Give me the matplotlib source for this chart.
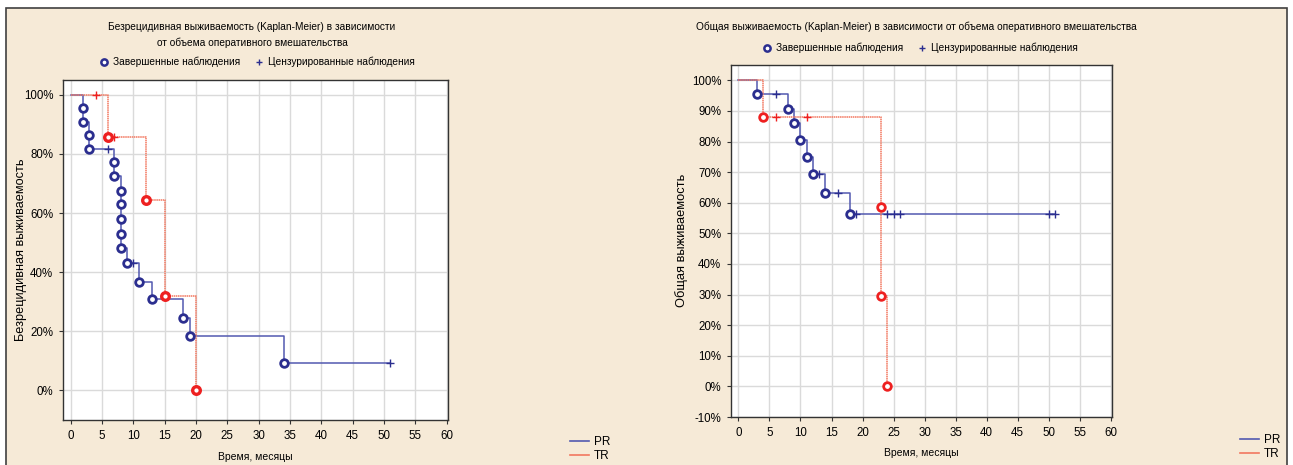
import matplotlib
matplotlib.use("Agg")
import matplotlib.pyplot as plt
from matplotlib.lines import Line2D
from matplotlib.patches import Rectangle
from matplotlib.ticker import FuncFormatter

plt.rcParams['font.family'] = ['Liberation Sans', 'DejaVu Sans']

# ---------------- data ----------------
# Left: relapse-free survival, %
rfs_pr_event_t = [2, 2, 3, 3, 7, 7, 8, 8, 8, 8, 8, 9, 11, 13, 18, 19, 34]
rfs_pr_event_s = [95.5, 90.9, 86.4, 81.8, 77.3, 72.5, 67.5, 63.0, 58.0, 53.0, 48.1,
                  43.2, 36.8, 30.8, 24.5, 18.4, 9.2]
rfs_pr_cens_t = [6, 10, 51]
rfs_tr_event_t = [6, 12, 15, 20]
rfs_tr_event_s = [85.7, 64.3, 32.1, 0.0]
rfs_tr_cens_t = [4, 7]

# Right: overall survival, %
os_pr_event_t = [3, 8, 9, 10, 11, 12, 14, 18]
os_pr_event_s = [95.6, 90.7, 85.9, 80.5, 74.9, 69.5, 63.3, 56.2]
os_pr_cens_t = [6, 13, 16, 19, 24, 25, 26, 50, 51]
os_tr_event_t = [4, 23, 23, 24]
os_tr_event_s = [87.9, 58.5, 29.4, 0.0]
os_tr_cens_t = [6, 11]

groups = ['PR', 'TR']
x_ticks = list(range(0, 61, 5))
rfs_y_ticks = [0, 20, 40, 60, 80, 100]
os_y_ticks = list(range(-10, 101, 10))

title_left = 'Безрецидивная выживаемость (Kaplan-Meier) в зависимости\nот объема оперативного вмешательства'
title_right = 'Общая выживаемость (Kaplan-Meier) в зависимости от объема оперативного вмешательства'
ylabel_left = 'Безрецидивная выживаемость'
ylabel_right = 'Общая выживаемость'
xlabel = 'Время, месяцы'
leg_labels = ['Завершенные наблюдения', 'Цензурированные наблюдения']

# ---------------- styles ----------------
BG = '#f6ead7'
PR_LINE = '#5259b0'
PR_MARK = '#2b2e8f'
TR_LINE = '#f2775f'
TR_MARK = '#ee2020'

W, H = 1293, 465
fig = plt.figure(figsize=(W / 100, H / 100), dpi=100)
fig.patch.set_facecolor('white')
bg = Rectangle((6 / W, -0.05), (1287 - 6) / W, 1.05 - 8 / H,
               transform=fig.transFigure, facecolor=BG,
               edgecolor='#404040', lw=1.2, zorder=-10)
fig.patches.append(bg)


def value_at(t, ev_t, ev_s):
    s = 100.0
    for et, es in zip(ev_t, ev_s):
        if et <= t:
            s = es
    return s


def km(ax, ev_t, ev_s, cens_t, line_c, mark_c, ls, mew):
    end = max(ev_t + cens_t)
    xs, ys = [0], [100.0]
    for et, es in zip(ev_t, ev_s):
        if xs[-1] == et:
            ys[-1] = es
        else:
            xs.append(et)
            ys.append(es)
    if xs[-1] < end:
        xs.append(end)
        ys.append(ys[-1])
    ax.step(xs, ys, where='post', color=line_c, lw=1.1, ls=ls, zorder=3)
    ax.plot(ev_t, ev_s, 'o', ms=5.5, mfc='white', mec=mark_c, mew=mew, zorder=5,
            ls='none')
    cs = [value_at(t, ev_t, ev_s) for t in cens_t]
    ax.plot(cens_t, cs, '+', ms=6, color=mark_c, mew=1.0, zorder=4, ls='none')


def setup(ax, yticks, ylim):
    ax.set_facecolor('white')
    ax.set_xlim(-1.2, 60.2)
    ax.set_ylim(*ylim)
    ax.set_xticks(x_ticks)
    ax.set_yticks(yticks)
    ax.yaxis.set_major_formatter(FuncFormatter(lambda v, p: f'{int(round(v))}%'))
    ax.grid(True, color='#dadada', lw=1.0)
    ax.set_axisbelow(True)
    for sp in ax.spines.values():
        sp.set_color('#333333')
        sp.set_linewidth(1.0)
    ax.tick_params(labelsize=8.3, length=3, color='#333333', pad=4)


ax1 = fig.add_axes([63 / W, (H - 420) / H, (448 - 63) / W, (420 - 80) / H])
setup(ax1, rfs_y_ticks, (-10, 105))
km(ax1, rfs_pr_event_t, rfs_pr_event_s, rfs_pr_cens_t, PR_LINE, PR_MARK, '-', 2.0)
km(ax1, rfs_tr_event_t, rfs_tr_event_s, rfs_tr_cens_t, TR_LINE, TR_MARK, (0, (1, 0.4)), 2.4)

ax2 = fig.add_axes([731 / W, (H - 417) / H, (1112 - 731) / W, (417 - 65) / H])
setup(ax2, os_y_ticks, (-10, 105))
km(ax2, os_pr_event_t, os_pr_event_s, os_pr_cens_t, PR_LINE, PR_MARK, '-', 2.0)
km(ax2, os_tr_event_t, os_tr_event_s, os_tr_cens_t, TR_LINE, TR_MARK, (0, (1, 0.4)), 2.0)

# titles and axis labels
fig.text(252 / W, 1 - 35 / H, title_left, ha='center', va='center', fontsize=7.3,
         linespacing=1.6)
fig.text(916 / W, 1 - 27 / H, title_right, ha='center', va='center', fontsize=7.3)
fig.text(21 / W, 1 - 250 / H, ylabel_left, rotation=90, ha='center', va='center',
         fontsize=9.2)
fig.text(682 / W, 1 - 240 / H, ylabel_right, rotation=90, ha='center', va='center',
         fontsize=9.3)
fig.text(255 / W, 1 - 457 / H, xlabel, ha='center', va='center', fontsize=7.5)
fig.text(921 / W, 1 - 453 / H, xlabel, ha='center', va='center', fontsize=7.5)

# top legends
top_handles = [Line2D([], [], marker='o', ls='none', ms=4.5, mfc='white', mec=PR_MARK, mew=1.8),
               Line2D([], [], marker='+', ls='none', ms=5, color=PR_MARK, mew=1)]
for cx, cy in [(257, 62), (920, 48)]:
    fig.legend(top_handles, leg_labels, loc='center', bbox_to_anchor=(cx / W, 1 - cy / H),
               ncol=2, frameon=False, fontsize=7.3, handlelength=1.0,
               handletextpad=0.4, columnspacing=1.4)

# bottom group legends
grp_handles = [Line2D([], [], color=PR_LINE, lw=1.2),
               Line2D([], [], color=TR_LINE, lw=1.2)]
for lx, ly in [(564, 449), (1234, 447)]:
    fig.legend(grp_handles, groups, loc='center left', bbox_to_anchor=(lx / W, 1 - ly / H),
               frameon=False, fontsize=8.5, handlelength=1.6, handletextpad=0.4,
               labelspacing=0.15, borderpad=0)

fig.savefig('out.png', dpi=100, facecolor='white')
